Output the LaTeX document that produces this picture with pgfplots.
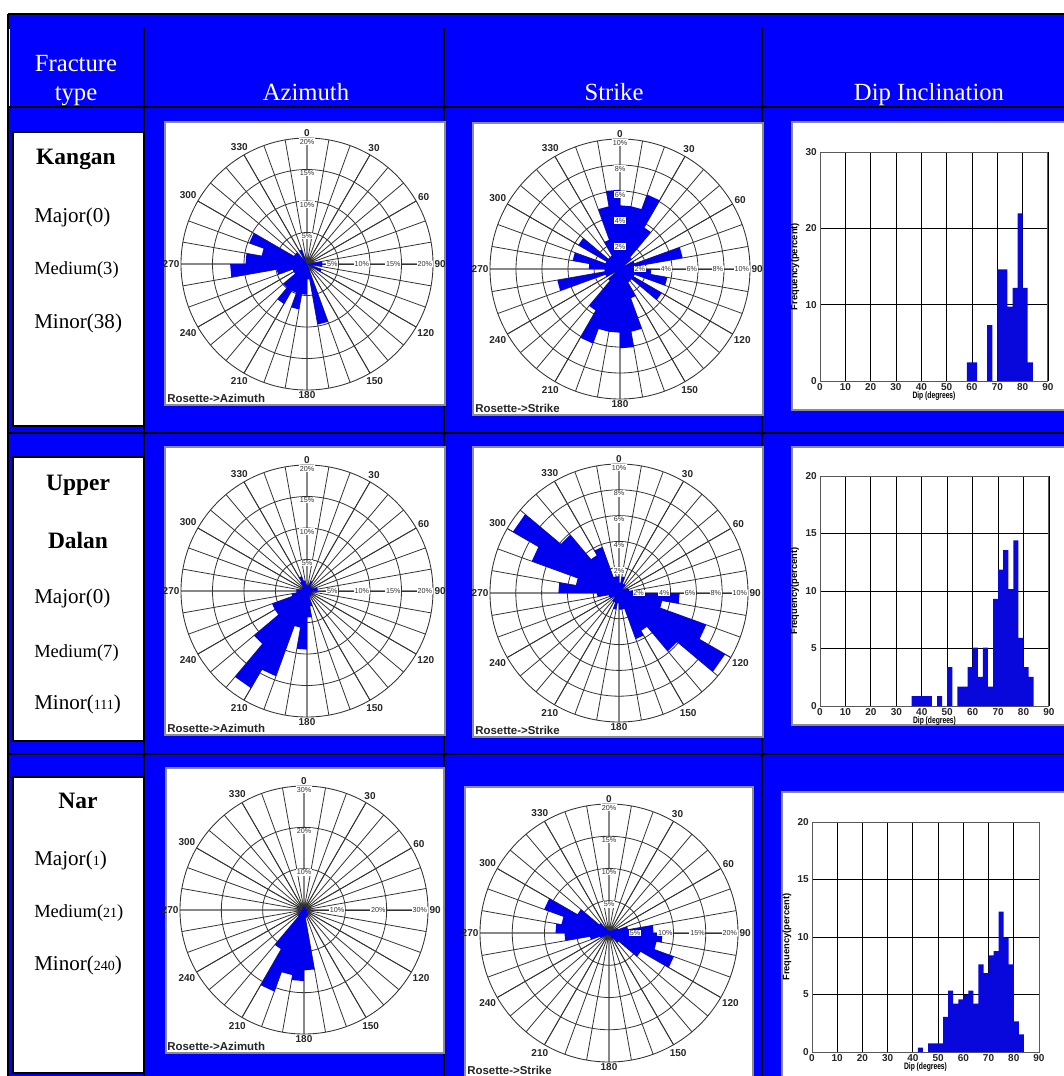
\documentclass[border=0pt]{standalone}
\usepackage{fontspec}
\setmainfont{Liberation Serif}
\newfontfamily\sans{Liberation Sans}
\usepackage{graphicx}
\usepackage{pgfplots}
\usepackage{pgfplotstable}
\pgfplotsset{compat=1.18}
\usepgfplotslibrary{polar}
\definecolor{bgblue}{RGB}{0,0,255}
\definecolor{roseblue}{RGB}{0,0,238}
\definecolor{barblue}{RGB}{8,8,220}
\newcommand\rl{\sans\bfseries\fontsize{7.5}{8}\selectfont}
\newcommand\pl{\sans\fontsize{5.4}{6}\selectfont}
\newcommand\hl{\sans\bfseries\fontsize{7.5}{8}\selectfont}

\tikzset{plab/.style={fill=white, inner sep=0.6pt, font=\pl, text=black!80}}
\pgfplotsset{
  rosebase/.style={
    scale only axis, anchor=center,
    xmin=0, xmax=360, ymin=0,
    xtick={0,30,...,330},
    xticklabels={90,60,30,0,330,300,270,240,210,180,150,120},
    minor xtick={0,10,...,350},
    grid=both,
    major grid style={draw=black!80, line width=0.6pt},
    minor grid style={draw=black!80, line width=0.6pt},
    axis line style={draw=black!80, line width=0.65pt},
    major tick length=0pt, minor tick length=0pt,
    yticklabels={},
    xticklabel style={font=\rl, text=black!85, inner sep=1pt},
    clip=false,
  },
  rosefill/.style={fill=roseblue, draw=none},
  histbase/.style={
    scale only axis, anchor=south west,
    xmin=0, xmax=90, ymin=0,
    xtick={0,10,...,90},
    grid=major,
    major grid style={draw=black, line width=0.65pt},
    axis line style={draw=black!65, line width=0.75pt},
    major tick length=0pt,
    /pgf/number format/assume math mode=true,
    ticklabel style={font=\hl, text=black!85},
    xticklabel style={yshift=1.5pt},
    yticklabel style={xshift=1pt},
    xlabel={\scalebox{0.72}[1]{Dip (degrees)}},
    ylabel={Frequency(percent)},
    xlabel style={font=\sans\bfseries\fontsize{7}{7}\selectfont, at={(axis description cs:0.5,-0.066)}, anchor=center},
    ylabel style={font=\sans\bfseries\fontsize{7}{8}\selectfont, at={(axis description cs:-0.11,0.5)}, anchor=center},
    clip=false,
  },
}

% ---------- rose data: azimuth of bin edges (deg, clockwise from N) and percent ----------
\pgfplotstableread[row sep=\\]{
a r\\
0 0\\10 0\\ 10 0\\20 0\\ 20 0\\30 0\\ 30 0\\40 0\\ 40 0\\50 0\\ 50 0\\60 0\\
60 0\\70 0\\ 70 0\\80 0\\ 80 2.44\\90 2.44\\ 90 2.44\\100 2.44\\ 100 0\\110 0\\ 110 2.44\\120 2.44\\
120 0\\130 0\\ 130 0\\140 0\\ 140 0\\150 0\\ 150 0\\160 0\\ 160 9.76\\170 9.76\\ 170 2.44\\180 2.44\\
180 4.88\\190 4.88\\ 190 7.32\\200 7.32\\ 200 4.88\\210 4.88\\ 210 7.32\\220 7.32\\ 220 4.88\\230 4.88\\ 230 2.44\\240 2.44\\
240 2.44\\250 2.44\\ 250 4.88\\260 4.88\\ 260 12.2\\270 12.2\\ 270 9.76\\280 9.76\\ 280 7.32\\290 7.32\\ 290 9.76\\300 9.76\\
300 2.44\\310 2.44\\ 310 2.44\\320 2.44\\ 320 0\\330 0\\ 330 2.44\\340 2.44\\ 340 0\\350 0\\ 350 0\\360 0\\
}\RoseKA

\pgfplotstableread[row sep=\\]{
a r\\
0 4.9\\10 4.9\\ 10 4.9\\20 4.9\\ 20 6.1\\30 6.1\\ 30 3.7\\40 3.7\\ 40 1.2\\50 1.2\\ 50 0\\60 0\\
60 1.2\\70 1.2\\ 70 4.9\\80 4.9\\ 80 1.2\\90 1.2\\ 90 2.4\\100 2.4\\ 100 3.7\\110 3.7\\ 110 1.2\\120 1.2\\
120 3.7\\130 3.7\\ 130 1.2\\140 1.2\\ 140 1.2\\150 1.2\\ 150 2.4\\160 2.4\\ 160 4.9\\170 4.9\\ 170 6.1\\180 6.1\\
180 4.9\\190 4.9\\ 190 4.9\\200 4.9\\ 200 6.1\\210 6.1\\ 210 3.7\\220 3.7\\ 220 1.2\\230 1.2\\ 230 0\\240 0\\
240 1.2\\250 1.2\\ 250 4.9\\260 4.9\\ 260 1.2\\270 1.2\\ 270 2.4\\280 2.4\\ 280 3.7\\290 3.7\\ 290 1.2\\300 1.2\\
300 3.7\\310 3.7\\ 310 1.2\\320 1.2\\ 320 1.2\\330 1.2\\ 330 2.4\\340 2.4\\ 340 4.9\\350 4.9\\ 350 6.1\\360 6.1\\
}\RoseKS

\pgfplotstableread[row sep=\\]{
a r\\
0 0.85\\10 0.85\\ 10 0.85\\20 0.85\\ 20 1.7\\30 1.7\\ 30 0.85\\40 0.85\\ 40 0.85\\50 0.85\\ 50 0.85\\60 0.85\\
60 0.85\\70 0.85\\ 70 1.7\\80 1.7\\ 80 1.7\\90 1.7\\ 90 0.85\\100 0.85\\ 100 0.85\\110 0.85\\ 110 0\\120 0\\
120 0.85\\130 0.85\\ 130 0.85\\140 0.85\\ 140 0.85\\150 0.85\\ 150 0.85\\160 0.85\\ 160 2.5\\170 2.5\\ 170 4.2\\180 4.2\\
180 9.3\\190 9.3\\ 190 5.9\\200 5.9\\ 200 14.4\\210 14.4\\ 210 17.8\\220 17.8\\ 220 11.0\\230 11.0\\ 230 5.9\\240 5.9\\
240 5.9\\250 5.9\\ 250 2.5\\260 2.5\\ 260 1.7\\270 1.7\\ 270 1.7\\280 1.7\\ 280 0.85\\290 0.85\\ 290 0.85\\300 0.85\\
300 0.85\\310 0.85\\ 310 0.85\\320 0.85\\ 320 1.7\\330 1.7\\ 330 2.5\\340 2.5\\ 340 1.7\\350 1.7\\ 350 0.85\\360 0.85\\
}\RoseUA

\pgfplotstableread[row sep=\\]{
a r\\
0 0.8\\10 0.8\\ 10 1.3\\20 1.3\\ 20 0.8\\30 0.8\\ 30 0.8\\40 0.8\\ 40 0.4\\50 0.4\\ 50 0.4\\60 0.4\\
60 0.8\\70 0.8\\ 70 0.8\\80 0.8\\ 80 1.7\\90 1.7\\ 90 4.7\\100 4.7\\ 100 3.4\\110 3.4\\ 110 7.2\\120 7.2\\
120 9.5\\130 9.5\\ 130 5.9\\140 5.9\\ 140 3.4\\150 3.4\\ 150 3.8\\160 3.8\\ 160 1.3\\170 1.3\\ 170 1.3\\180 1.3\\
180 0.8\\190 0.8\\ 190 1.3\\200 1.3\\ 200 0.8\\210 0.8\\ 210 0.8\\220 0.8\\ 220 0.4\\230 0.4\\ 230 0.4\\240 0.4\\
240 0.8\\250 0.8\\ 250 0.8\\260 0.8\\ 260 1.7\\270 1.7\\ 270 4.7\\280 4.7\\ 280 3.4\\290 3.4\\ 290 7.2\\300 7.2\\
300 9.5\\310 9.5\\ 310 5.9\\320 5.9\\ 320 3.4\\330 3.4\\ 330 3.8\\340 3.8\\ 340 1.3\\350 1.3\\ 350 1.3\\360 1.3\\
}\RoseUS

\pgfplotstableread[row sep=\\]{
a r\\
0 0.8\\10 0.8\\ 10 0.8\\20 0.8\\ 20 0.8\\30 0.8\\ 30 0.4\\40 0.4\\ 40 0.4\\50 0.4\\ 50 0.4\\60 0.4\\
60 0.4\\70 0.4\\ 70 0.8\\80 0.8\\ 80 0.8\\90 0.8\\ 90 0.8\\100 0.8\\ 100 0.8\\110 0.8\\ 110 0.8\\120 0.8\\
120 0.8\\130 0.8\\ 130 1.1\\140 1.1\\ 140 1.5\\150 1.5\\ 150 1.5\\160 1.5\\ 160 1.9\\170 1.9\\ 170 14.6\\180 14.6\\
180 17.2\\190 17.2\\ 190 16\\200 16\\ 200 21\\210 21\\ 210 11\\220 11\\ 220 1.9\\230 1.9\\ 230 1.1\\240 1.1\\
240 0.8\\250 0.8\\ 250 0.8\\260 0.8\\ 260 0.8\\270 0.8\\ 270 0.4\\280 0.4\\ 280 0.4\\290 0.4\\ 290 0.4\\300 0.4\\
300 0.4\\310 0.4\\ 310 0.4\\320 0.4\\ 320 0.4\\330 0.4\\ 330 0.8\\340 0.8\\ 340 0.8\\350 0.8\\ 350 0.8\\360 0.8\\
}\RoseNA

\pgfplotstableread[row sep=\\]{
a r\\
0 0.4\\10 0.4\\ 10 0.4\\20 0.4\\ 20 0.4\\30 0.4\\ 30 0.4\\40 0.4\\ 40 0.4\\50 0.4\\ 50 0.8\\60 0.8\\
60 1.5\\70 1.5\\ 70 3\\80 3\\ 80 6.9\\90 6.9\\ 90 8.3\\100 8.3\\ 100 7.5\\110 7.5\\ 110 10.7\\120 10.7\\
120 5.7\\130 5.7\\ 130 2\\140 2\\ 140 1\\150 1\\ 150 0.4\\160 0.4\\ 160 0.4\\170 0.4\\ 170 0.4\\180 0.4\\
180 0.4\\190 0.4\\ 190 0.4\\200 0.4\\ 200 0.4\\210 0.4\\ 210 0.4\\220 0.4\\ 220 0.4\\230 0.4\\ 230 0.8\\240 0.8\\
240 1.5\\250 1.5\\ 250 3\\260 3\\ 260 6.9\\270 6.9\\ 270 8.3\\280 8.3\\ 280 7.5\\290 7.5\\ 290 10.7\\300 10.7\\
300 5.7\\310 5.7\\ 310 2\\320 2\\ 320 1\\330 1\\ 330 0.4\\340 0.4\\ 340 0.4\\350 0.4\\ 350 0.4\\360 0.4\\
}\RoseNS

% ---------- dip histograms: bin start (deg) and percent ----------
\pgfplotstableread[row sep=\\]{
x y\\ 58 2.44\\ 60 2.44\\ 62 0\\ 64 0\\ 66 7.32\\ 68 0\\ 70 14.63\\ 72 14.63\\ 74 9.76\\ 76 12.2\\ 78 21.95\\ 80 12.2\\ 82 2.44\\ 84 0\\
}\DipK
\pgfplotstableread[row sep=\\]{
x y\\ 36 0.85\\ 38 0.85\\ 40 0.85\\ 42 0.85\\ 44 0\\ 46 0.85\\ 48 0\\ 50 3.39\\ 52 0\\ 54 1.69\\ 56 1.69\\ 58 3.39\\ 60 5.08\\ 62 2.54\\ 64 5.08\\ 66 1.69\\ 68 9.32\\ 70 11.86\\ 72 13.56\\ 74 10.17\\ 76 14.41\\ 78 5.93\\ 80 3.39\\ 82 2.54\\ 84 0\\
}\DipU
\pgfplotstableread[row sep=\\]{
x y\\ 42 0.38\\ 44 0\\ 46 0.76\\ 48 0.76\\ 50 0.76\\ 52 3.05\\ 54 5.34\\ 56 4.2\\ 58 4.58\\ 60 4.96\\ 62 5.34\\ 64 4.2\\ 66 7.63\\ 68 6.87\\ 70 8.4\\ 72 8.78\\ 74 12.21\\ 76 9.92\\ 78 7.63\\ 80 2.67\\ 82 1.53\\ 84 0\\
}\DipN

\begin{document}
\begin{tikzpicture}[x=0.75pt,y=-0.75pt]
\useasboundingbox (0,0) rectangle (1064,1076);
\fill[white] (0,0) rectangle (1064,1076);
\fill[bgblue] (8,14) rectangle (1064,1076);
% table rules
\draw[black, line width=1pt] (8,14) -- (1064,14);
\draw[black, line width=1pt] (8,14) -- (8,1076);
\draw[black, line width=1pt] (8,107) -- (1064,107);
\draw[black, line width=1pt] (8,433) -- (1064,433);
\draw[black, line width=1pt] (8,754) -- (1064,754);
\draw[black, line width=1pt] (144,28) -- (144,1076);
\draw[black, line width=1pt] (444,28) -- (444,1076);
\draw[black, line width=1pt] (762,28) -- (762,1076);
\draw[white, line width=0.8pt] (9.5,29) -- (9.5,106);

% header
\begin{scope}[every node/.style={text=white, font=\fontsize{18.5}{20}\selectfont, anchor=base}]
\node at (76,71) {Fracture};
\node at (76,100) {type};
\node at (306,100) {Azimuth};
\node at (614,100) {Strike};
\node at (929,100) {Dip Inclination};
\end{scope}

% left boxes
\draw[fill=white, draw=black, line width=1.5pt] (13,132) rectangle (144,426);
\draw[fill=white, draw=black, line width=1.5pt] (13,457) rectangle (144,741);
\draw[fill=white, draw=black, line width=1.5pt] (13,777) rectangle (144,1073);
\begin{scope}[every node/.style={anchor=base, inner sep=0pt}]
\newcommand\nm{\fontsize{17.6}{20}\bfseries\selectfont}
\newcommand\mj{\fontsize{15.8}{18}\selectfont}
\newcommand\md{\fontsize{13.9}{16}\selectfont}
\newcommand\sm{\fontsize{10.5}{12}\selectfont}
\node at (76,164) {\nm Kangan};
\node[anchor=base west] at (34,222) {\mj Major(0)};
\node[anchor=base west] at (34,274) {\md Medium(3)};
\node[anchor=base west] at (34,328) {\mj Minor(38)};
\node at (78,490) {\nm Upper};
\node at (78,548) {\nm Dalan};
\node[anchor=base west] at (34,603) {\mj Major(0)};
\node[anchor=base west] at (34,657) {\md Medium(7)};
\node[anchor=base west] at (34,709) {\mj Minor(\sm 111\mj)};
\node at (78,808) {\nm Nar};
\node[anchor=base west] at (34,865) {\mj Major(\sm 1\mj)};
\node[anchor=base west] at (34,917) {\md Medium(\sm 21\md)};
\node[anchor=base west] at (34,970) {\mj Minor(\sm 240\mj)};
\end{scope}

% image panels
\begin{scope}[fill=white, draw=black!45, line width=0.8pt]
\filldraw (165,122) rectangle (445,405);
\filldraw (473,123) rectangle (763,415);
\filldraw (792,122) rectangle (1066,410);
\filldraw (165,447) rectangle (445,735);
\filldraw (473,447) rectangle (763,737);
\filldraw (792,447) rectangle (1066,725);
\filldraw (166,768) rectangle (444,1053);
\filldraw (465,787) rectangle (753,1080);
\filldraw (782,792) rectangle (1066,1080);
\end{scope}
\begin{scope}[every node/.style={font=\sans\bfseries\fontsize{8.6}{9}\selectfont, text=black!85, anchor=base west, inner sep=0pt}]
\node at (167,402) {Rosette->Azimuth};
\node at (475,412) {Rosette->Strike};
\node at (167,732) {Rosette->Azimuth};
\node at (475,734) {Rosette->Strike};
\node at (167,1050) {Rosette->Azimuth};
\node at (467,1074) {Rosette->Strike};
\end{scope}

% ===== Row 1: Kangan =====
\begin{polaraxis}[rosebase, at={(230.25pt,-198pt)}, width=189pt, height=189pt, ymax=20, ytick={5,10,15}]
\addplot[rosefill] table[x expr={mod(450-\thisrow{a},360)}, y=r] {\RoseKA};
\pgfplotsinvokeforeach{5,10,15,20}{
  \node[plab, anchor=east] at (axis cs:0,#1) {#1\%};
  \node[plab, anchor=north] at (axis cs:90,#1) {#1\%};
}
\end{polaraxis}

\begin{polaraxis}[rosebase, at={(465pt,-201.75pt)}, width=195pt, height=195pt, ymax=10, ytick={2,4,6,8}]
\addplot[rosefill] table[x expr={mod(450-\thisrow{a},360)}, y=r] {\RoseKS};
\addplot[rosefill] coordinates {(0,0.45)(30,0.45)(60,0.45)(90,0.45)(120,0.45)(150,0.45)(180,0.45)(210,0.45)(240,0.45)(270,0.45)(300,0.45)(330,0.45)};
\pgfplotsinvokeforeach{2,4,6,8,10}{
  \node[plab, anchor=east] at (axis cs:0,#1) {#1\%};
  \node[plab, anchor=north] at (axis cs:90,#1) {#1\%};
}
\end{polaraxis}

\begin{axis}[histbase, at={(615pt,-285.75pt)}, width=171pt, height=171.75pt, ymax=30, ytick={0,10,20,30}]
\addplot[ybar interval, fill=barblue, draw=none] table[x=x, y=y] {\DipK};
\end{axis}

% ===== Row 2: Upper Dalan =====
\begin{polaraxis}[rosebase, at={(230.25pt,-443.25pt)}, width=189pt, height=189pt, ymax=20, ytick={5,10,15}]
\addplot[rosefill] table[x expr={mod(450-\thisrow{a},360)}, y=r] {\RoseUA};
\pgfplotsinvokeforeach{5,10,15,20}{
  \node[plab, anchor=east] at (axis cs:0,#1) {#1\%};
  \node[plab, anchor=north] at (axis cs:90,#1) {#1\%};
}
\end{polaraxis}

\begin{polaraxis}[rosebase, at={(464.25pt,-444.75pt)}, width=193.5pt, height=193.5pt, ymax=10, ytick={2,4,6,8}]
\addplot[rosefill] table[x expr={mod(450-\thisrow{a},360)}, y=r] {\RoseUS};
\addplot[rosefill] coordinates {(0,0.45)(30,0.45)(60,0.45)(90,0.45)(120,0.45)(150,0.45)(180,0.45)(210,0.45)(240,0.45)(270,0.45)(300,0.45)(330,0.45)};
\pgfplotsinvokeforeach{2,4,6,8,10}{
  \node[plab, anchor=east] at (axis cs:0,#1) {#1\%};
  \node[plab, anchor=north] at (axis cs:90,#1) {#1\%};
}
\end{polaraxis}

\begin{axis}[histbase, at={(615pt,-529.5pt)}, width=171.75pt, height=172.5pt, ymax=20, ytick={0,5,10,15,20}]
\addplot[ybar interval, fill=barblue, draw=none] table[x=x, y=y] {\DipU};
\end{axis}

% ===== Row 3: Nar =====
\begin{polaraxis}[rosebase, at={(228pt,-682.5pt)}, width=186pt, height=186pt, ymax=30, ytick={10,20}]
\addplot[rosefill] table[x expr={mod(450-\thisrow{a},360)}, y=r] {\RoseNA};
\pgfplotsinvokeforeach{10,20,30}{
  \node[plab, anchor=east] at (axis cs:0,#1) {#1\%};
  \node[plab, anchor=north] at (axis cs:90,#1) {#1\%};
}
\end{polaraxis}

\begin{polaraxis}[rosebase, at={(456.75pt,-699.75pt)}, width=193.5pt, height=193.5pt, ymax=20, ytick={5,10,15}]
\addplot[rosefill] table[x expr={mod(450-\thisrow{a},360)}, y=r] {\RoseNS};
\pgfplotsinvokeforeach{5,10,15,20}{
  \node[plab, anchor=east] at (axis cs:0,#1) {#1\%};
  \node[plab, anchor=north] at (axis cs:90,#1) {#1\%};
}
\end{polaraxis}

\begin{axis}[histbase, at={(609pt,-789pt)}, width=170.25pt, height=172.5pt, ymax=20, ytick={0,5,10,15,20}]
\addplot[ybar interval, fill=barblue, draw=none] table[x=x, y=y] {\DipN};
\end{axis}
\end{tikzpicture}
\end{document}
